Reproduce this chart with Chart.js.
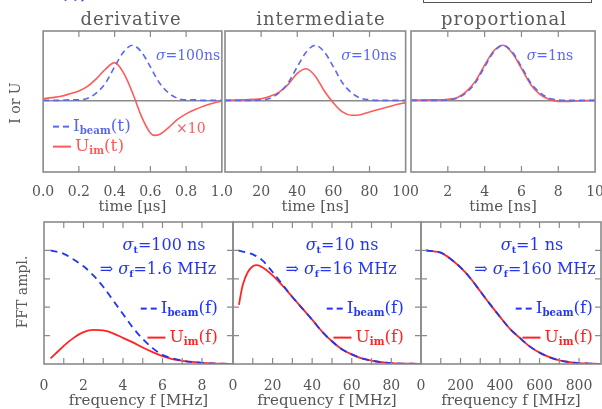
<!DOCTYPE html>
<html>
<head>
<meta charset="utf-8">
<script src="https://cdn.jsdelivr.net/npm/chart.js@4/dist/chart.umd.min.js"></script>
<style>
body { margin: 0; background: #fff; }
#wrap { position: relative; width: 602px; height: 409px; overflow: hidden; font-family: "DejaVu Serif", serif; }
canvas { position: absolute; }
.t { position: absolute; white-space: nowrap; line-height: 1; }
.c { transform: translate(-50%, -50%); }
.r { transform: translate(-100%, -50%); }
.l { transform: translate(0, -50%); }
.grey { color: #5a5a5a; }
.tb { color: #5a68f0; }
.tr { color: #ff5a5a; }
.bb { color: #2236f2; }
.br { color: #ff2424; }
sub { font-size: 60%; font-weight: bold; vertical-align: -0.35em; }
.dash { display: inline-block; width: 6px; height: 2px; margin-right: 4px; vertical-align: middle; }
.solid { display: inline-block; width: 18px; height: 2px; margin-right: 4px; vertical-align: middle; }
</style>
</head>
<body>
<div id="wrap">
  <canvas id="p1"></canvas><canvas id="p2"></canvas><canvas id="p3"></canvas>
  <canvas id="q1"></canvas><canvas id="q2"></canvas><canvas id="q3"></canvas>

  <div class="t" style="left:19px;top:-13px;color:#2a3ab0;font-style:italic;font-weight:bold;font-size:14px;">beam(t), U</div>
  <div style="position:absolute;left:423px;top:-20px;width:167px;height:21px;border:1px solid #555;"></div>

  <div class="t c grey" style="left:131px;top:19px;font-size:18px;letter-spacing:1px;">derivative</div>
  <div class="t c grey" style="left:321px;top:19px;font-size:18px;letter-spacing:1px;">intermediate</div>
  <div class="t c grey" style="left:504px;top:19px;font-size:18px;letter-spacing:1px;">proportional</div>

  <div class="t c grey" style="left:15px;top:103px;font-size:14px;transform:translate(-50%,-50%) rotate(-90deg);">I or U</div>
  <div class="t c grey" style="left:22px;top:292px;font-size:14px;transform:translate(-50%,-50%) rotate(-90deg);">FFT ampl.</div>

  <div class="t c tb" style="left:188px;top:55px;font-size:14px;"><i>σ</i>=100ns</div>
  <div class="t c tb" style="left:369px;top:55px;font-size:14px;"><i>σ</i>=10ns</div>
  <div class="t c tb" style="left:550px;top:55px;font-size:14px;"><i>σ</i>=1ns</div>
  <div class="t l tr" style="left:176px;top:128px;font-size:14px;">×10</div>

  <div class="t l tb" style="left:53px;top:126px;font-size:17px;"><span class="dash" style="background:#5a68f0"></span><span class="dash" style="background:#5a68f0"></span>I<sub>beam</sub>(t)</div>
  <div class="t l tr" style="left:53px;top:146px;font-size:17px;"><span class="solid" style="background:#ff5a5a"></span>U<sub>im</sub>(t)</div>

  <div class="t c bb" style="left:164px;top:246px;font-size:16px;"><i>σ</i><sub>t</sub>=100 ns</div>
  <div class="t c bb" style="left:158px;top:270px;font-size:16px;">⇒ <i>σ</i><sub>f</sub>=1.6 MHz</div>
  <div class="t r bb" style="left:218px;top:308px;font-size:17px;"><span class="dash" style="background:#2236f2"></span><span class="dash" style="background:#2236f2"></span>I<sub>beam</sub>(f)</div>
  <div class="t r br" style="left:218px;top:337px;font-size:17px;"><span class="solid" style="background:#ff2424"></span>U<sub>im</sub>(f)</div>

  <div class="t c bb" style="left:342px;top:246px;font-size:16px;"><i>σ</i><sub>t</sub>=10 ns</div>
  <div class="t c bb" style="left:341px;top:270px;font-size:16px;">⇒ <i>σ</i><sub>f</sub>=16 MHz</div>
  <div class="t r bb" style="left:404px;top:308px;font-size:17px;"><span class="dash" style="background:#2236f2"></span><span class="dash" style="background:#2236f2"></span>I<sub>beam</sub>(f)</div>
  <div class="t r br" style="left:404px;top:337px;font-size:17px;"><span class="solid" style="background:#ff2424"></span>U<sub>im</sub>(f)</div>

  <div class="t c bb" style="left:532px;top:246px;font-size:16px;"><i>σ</i><sub>t</sub>=1 ns</div>
  <div class="t c bb" style="left:535px;top:270px;font-size:16px;">⇒ <i>σ</i><sub>f</sub>=160 MHz</div>
  <div class="t r bb" style="left:593px;top:308px;font-size:17px;"><span class="dash" style="background:#2236f2"></span><span class="dash" style="background:#2236f2"></span>I<sub>beam</sub>(f)</div>
  <div class="t r br" style="left:593px;top:337px;font-size:17px;"><span class="solid" style="background:#ff2424"></span>U<sub>im</sub>(f)</div>
</div>

<script>
// time domain, derivative case (t in us)
const t1 = [0, 0.05, 0.1, 0.15, 0.2, 0.25, 0.3, 0.35, 0.4, 0.45, 0.5, 0.55, 0.6, 0.625, 0.65, 0.7, 0.75, 0.8, 0.85, 0.9, 0.95, 1.0];
const beam1 = [0, 0, 0, 0.01, 0.01, 0.04, 0.14, 0.32, 0.61, 0.88, 1.0, 0.88, 0.61, 0.46, 0.32, 0.14, 0.04, 0.01, 0.01, 0, 0, 0];
const uim1 = [0.03, 0.05, 0.075, 0.12, 0.17, 0.26, 0.40, 0.57, 0.685, 0.50, 0.14, -0.29, -0.59, -0.635, -0.62, -0.50, -0.35, -0.245, -0.166, -0.10, -0.05, -0.015];

// intermediate case (t in ns)
const t2 = [0, 5, 10, 15, 20, 25, 30, 35, 40, 45, 50, 55, 60, 65, 70, 75, 80, 85, 90, 95, 100];
const beam2 = [0, 0, 0, 0, 0.01, 0.04, 0.14, 0.32, 0.61, 0.88, 1.0, 0.88, 0.61, 0.32, 0.14, 0.04, 0.01, 0, 0, 0, 0];
const uim2 = [0, 0.005, 0.01, 0.02, 0.03, 0.075, 0.15, 0.29, 0.49, 0.575, 0.44, 0.17, -0.045, -0.21, -0.27, -0.26, -0.21, -0.165, -0.12, -0.075, -0.04];

// proportional case (t in ns)
const t3 = [0, 0.5, 1, 1.5, 2, 2.5, 3, 3.5, 4, 4.5, 5, 5.5, 6, 6.5, 7, 7.5, 8, 8.5, 9, 9.5, 10];
const beam3 = [0, 0, 0, 0, 0.01, 0.04, 0.14, 0.32, 0.61, 0.88, 1.0, 0.88, 0.61, 0.32, 0.14, 0.04, 0.01, 0, 0, 0, 0];
const uim3 = [0.005, 0.005, 0.01, 0.01, 0.02, 0.05, 0.16, 0.35, 0.64, 0.9, 1.0, 0.86, 0.58, 0.29, 0.11, 0.02, -0.02, -0.02, -0.01, -0.005, 0];

// spectra, derivative case (f in MHz)
const fb1 = [0.33, 1, 1.5, 2, 2.5, 3, 3.5, 4, 4.5, 5, 5.5, 6, 6.5, 7, 7.5, 8, 8.5, 9, 9.5];
const specBeam1 = [1.0, 0.97, 0.92, 0.86, 0.78, 0.68, 0.56, 0.44, 0.32, 0.22, 0.14, 0.08, 0.05, 0.03, 0.018, 0.01, 0.005, 0.002, 0];
const fu1 = [0.33, 0.7, 1, 1.5, 2, 2.5, 3, 3.5, 4, 4.5, 5, 5.5, 6, 6.5, 7, 7.5, 8, 8.5, 9, 9.5];
const specUim1 = [0.05, 0.11, 0.16, 0.23, 0.28, 0.30, 0.295, 0.27, 0.23, 0.19, 0.145, 0.105, 0.07, 0.043, 0.028, 0.018, 0.01, 0.005, 0.002, 0];

// spectra, intermediate case
const fb2 = [2.7, 5, 10, 15, 20, 25, 30, 35, 40, 45, 50, 55, 60, 65, 70, 75, 80, 85, 90, 95];
const specBeam2 = [1.0, 0.99, 0.965, 0.91, 0.81, 0.70, 0.59, 0.49, 0.39, 0.285, 0.20, 0.13, 0.085, 0.05, 0.03, 0.016, 0.008, 0.004, 0.002, 0];
const fu2 = [3, 4, 5, 7.5, 10, 12, 15, 20, 25, 30, 35, 40, 45, 50, 55, 60, 65, 70, 75, 80, 85, 90, 95];
const specUim2 = [0.52, 0.62, 0.70, 0.81, 0.86, 0.87, 0.85, 0.78, 0.69, 0.59, 0.49, 0.39, 0.285, 0.20, 0.13, 0.085, 0.05, 0.03, 0.016, 0.008, 0.004, 0.002, 0];

// spectra, proportional case
const f3 = [25, 50, 100, 150, 200, 250, 300, 350, 400, 450, 500, 550, 600, 650, 700, 750, 800, 850, 900, 911];
const specBeam3 = [1.0, 0.995, 0.98, 0.925, 0.85, 0.755, 0.64, 0.525, 0.415, 0.31, 0.23, 0.155, 0.10, 0.06, 0.032, 0.017, 0.008, 0.004, 0.001, 0];
const specUim3 = [1.0, 0.995, 0.98, 0.925, 0.85, 0.755, 0.64, 0.525, 0.415, 0.31, 0.23, 0.155, 0.10, 0.06, 0.032, 0.017, 0.008, 0.004, 0.001, 0];

const pts = (xs, ys) => xs.map((x, i) => ({ x: x, y: ys[i] }));

const frame = {
    id: 'frame',
    afterDraw(chart, args, o) {
        const { ctx, chartArea: a } = chart;
        ctx.save();
        ctx.strokeStyle = '#8a8a8a';
        ctx.lineWidth = 1.6;
        ctx.strokeRect(a.left, a.top, a.right - a.left, a.bottom - a.top);
        ctx.lineWidth = 1.2;
        ctx.beginPath();
        const xs = chart.scales.x;
        xs.ticks.forEach(tk => {
            const k = tk.value / o.xStep;
            if (Math.abs(k - Math.round(k)) > 1e-6) return;
            if (tk.value <= xs.min || tk.value >= xs.max) return;
            const px = xs.getPixelForValue(tk.value);
            ctx.moveTo(px, a.top); ctx.lineTo(px, a.top + o.len);
            ctx.moveTo(px, a.bottom); ctx.lineTo(px, a.bottom - o.len);
        });
        if (o.yTicks) {
            const ys = chart.scales.y;
            ys.ticks.forEach(tk => {
                if (tk.value <= ys.min || tk.value >= ys.max) return;
                const py = ys.getPixelForValue(tk.value);
                ctx.moveTo(a.left, py); ctx.lineTo(a.left + o.len, py);
                ctx.moveTo(a.right, py); ctx.lineTo(a.right - o.len, py);
            });
        }
        ctx.stroke();
        ctx.restore();
    }
};

const padL = 20, padR = 20, padT = 8, axisH = 46;

function panel(id, box, cfg) {
    const cv = document.getElementById(id);
    cv.width = box[1] - box[0] + padL + padR;
    cv.height = padT + box[3] - box[2] + axisH;
    cv.style.left = (box[0] - padL) + 'px';
    cv.style.top = (box[2] - padT) + 'px';
    return new Chart(cv, {
        type: 'line',
        data: { datasets: cfg.sets },
        options: {
            responsive: false,
            animation: false,
            events: [],
            layout: { padding: { left: padL, right: padR, top: padT, bottom: 0 } },
            plugins: { legend: { display: false }, tooltip: { enabled: false }, frame: { xStep: cfg.xStep, len: 6, yTicks: cfg.yTicks } },
            elements: { point: { radius: 0 }, line: { cubicInterpolationMode: 'monotone', fill: false } },
            scales: {
                x: {
                    type: 'linear', min: cfg.xMin, max: cfg.xMax,
                    afterFit: s => { s.height = axisH; },
                    grid: { display: false, drawTicks: false },
                    border: { display: false },
                    ticks: {
                        stepSize: cfg.xStep, autoSkip: false, maxRotation: 0, padding: cfg.tickPad,
                        color: '#555', font: { family: 'DejaVu Serif', size: 14 },
                        callback: cfg.label
                    },
                    title: {
                        display: true, text: cfg.xTitle, color: '#555',
                        font: { family: 'DejaVu Serif', size: 15 },
                        padding: { top: 0, bottom: cfg.titlePad }
                    }
                },
                y: {
                    min: cfg.yMin, max: cfg.yMax,
                    afterFit: s => { s.width = 0; },
                    ticks: { display: false, stepSize: cfg.yStep },
                    border: { display: false },
                    grid: {
                        display: cfg.zeroLine, drawTicks: false, lineWidth: 1.5,
                        color: c => (c.tick && c.tick.value === 0) ? '#8a8a8a' : 'rgba(0,0,0,0)'
                    }
                }
            }
        },
        plugins: [frame]
    });
}

const topBlue = '#5a68f0', topRed = '#ff5a5a', botBlue = '#2236f2', botRed = '#ff2424';

function timeSets(t, b, u) {
    return [
        { data: pts(t, b), borderColor: topBlue, borderWidth: 1.6, borderDash: [6, 4] },
        { data: pts(t, u), borderColor: topRed, borderWidth: 1.6 }
    ];
}

function specSets(fb, b, fu, u) {
    return [
        { data: pts(fb, b), borderColor: botBlue, borderWidth: 1.8, borderDash: [7, 5] },
        { data: pts(fu, u), borderColor: botRed, borderWidth: 1.8 }
    ];
}

const topRow = { yMin: -1.3, yMax: 1.26, yStep: 0.5, zeroLine: true, yTicks: false, tickPad: 12, titlePad: 2 };
const botRow = { yMin: 0, yMax: 1.25, yStep: 0.25, zeroLine: false, yTicks: true, tickPad: 14, titlePad: 0 };

panel('p1', [40, 225, 31, 172], Object.assign({}, topRow, {
    sets: timeSets(t1, beam1, uim1), xMin: 0, xMax: 1, xStep: 0.2, xTitle: 'time [μs]',
    label: v => v.toFixed(1)
}));
panel('p2', [225, 411, 31, 172], Object.assign({}, topRow, {
    sets: timeSets(t2, beam2, uim2), xMin: 0, xMax: 100, xStep: 20, xTitle: 'time [ns]',
    label: v => v === 0 ? '' : String(v)
}));
panel('p3', [411, 596, 31, 172], Object.assign({}, topRow, {
    sets: timeSets(t3, beam3, uim3), xMin: 0, xMax: 10, xStep: 2, xTitle: 'time [ns]',
    label: v => v === 0 ? '' : String(v)
}));

panel('q1', [44, 233, 222, 364], Object.assign({}, botRow, {
    sets: specSets(fb1, specBeam1, fu1, specUim1), xMin: 0, xMax: 9.57, xStep: 1, xTitle: 'frequency f [MHz]',
    label: v => (v % 2 === 0) ? String(v) : ''
}));
panel('q2', [233, 421, 222, 364], Object.assign({}, botRow, {
    sets: specSets(fb2, specBeam2, fu2, specUim2), xMin: 0, xMax: 95, xStep: 10, xTitle: 'frequency f [MHz]',
    label: v => (v % 20 === 0) ? String(v) : ''
}));
panel('q3', [421, 601, 222, 364], Object.assign({}, botRow, {
    sets: specSets(f3, specBeam3, f3, specUim3), xMin: 0, xMax: 911, xStep: 100, xTitle: 'frequency f [MHz]',
    label: v => (v % 200 === 0) ? String(v) : ''
}));
</script>
</body>
</html>
